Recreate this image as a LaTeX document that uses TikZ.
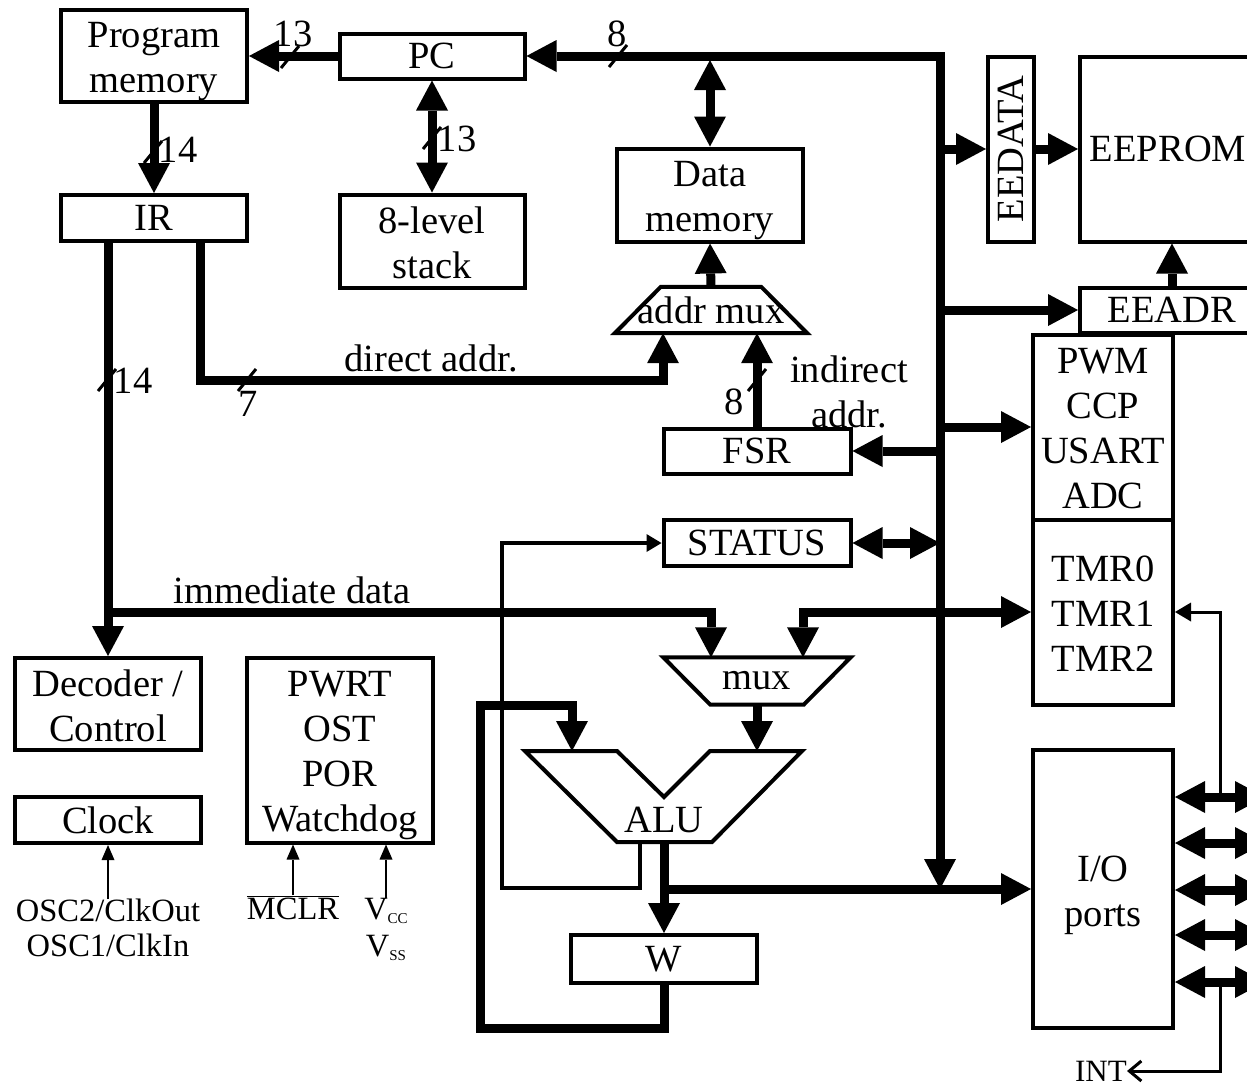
\documentclass[tikz,border=0pt]{standalone}
\usepackage{fontspec}
\setmainfont{Liberation Serif}
\usepackage{graphicx}
\usetikzlibrary{calc,arrows.meta}

\begin{document}
\begin{tikzpicture}[x=1pt, y=-1pt,
    font=\fontsize{38.5}{45}\selectfont,
    blk/.style={draw, line width=4pt, inner sep=0pt, align=center},
    lbl/.style={inner sep=0pt, align=center},
    txt/.style={lbl, yshift=-6pt},
    txtb/.style={lbl, yshift=-2pt},
    pinlbl/.style={inner sep=0pt, align=center, font=\fontsize{32.5}{35}\selectfont},
    bus/.style={line width=9pt},
    fb/.style={line width=4pt},
    sig/.style={line width=3pt},
    pinline/.style={line width=2pt},
    wcut/.style={line width=3pt},
    tri/.tip={Triangle[length=30pt, width=32pt, line width=0pt]},
    stri/.tip={Triangle[length=15pt, width=18pt, line width=0pt]},
    ttri/.tip={Triangle[length=16pt, width=19pt, line width=0pt]},
    ctri/.tip={Triangle[length=15pt, width=13pt, line width=0pt]},
    intb/.tip={Straight Barb[length=12pt, width=20pt]}]

    \useasboundingbox (0,0) rectangle (1247,1088);

    % blocks
    \node[blk, minimum width=186pt, minimum height=92pt, label={[txt]center:Program\\memory}] (pm) at (154,56) {};
    \node[blk, minimum width=185pt, minimum height=45pt] (pc) at (432,56) {PC};
    \node[blk, minimum width=186pt, minimum height=46pt] (ir) at (154,218) {IR};
    \node[blk, minimum width=185pt, minimum height=93pt, label={[txtb]center:8-level\\stack}] (stk) at (432,241) {};
    \node[blk, minimum width=186pt, minimum height=93pt, label={[txt]center:Data\\memory}] (dmem) at (710,195) {};
    \node[lbl, minimum width=192pt, minimum height=46pt] (amux) at (711,310) {addr mux};
    \node[blk, minimum width=187pt, minimum height=45pt] (fsr) at (757,451) {FSR};
    \node[blk, minimum width=187pt, minimum height=46pt] (status) at (757,543) {STATUS};
    \node[blk, minimum width=186pt, minimum height=92pt, label={[txtb]center:Decoder /\\Control}] (dec) at (108,704) {};
    \node[blk, minimum width=186pt, minimum height=46pt] (clk) at (108,820) {Clock};
    \node[blk, minimum width=186pt, minimum height=185pt, label={[txt]center:PWRT\\OST\\POR\\Watchdog}] (pwr) at (340,750) {};
    \node[lbl, minimum width=187pt, minimum height=47pt] (mux) at (757,681) {mux};
    \node[lbl] (alu) at (664,820) {ALU};
    \node[blk, minimum width=186pt, minimum height=48pt] (w) at (664,959) {W};
    \node[blk, minimum width=140pt, minimum height=278pt, label={[txt]center:I/O\\ports}] (io) at (1103,889) {};
    \node[blk, minimum width=140pt, minimum height=185pt, label={[txtb]center:PWM\\CCP\\USART\\ADC}] (per) at (1103,427) {};
    \node[blk, minimum width=140pt, minimum height=185pt, label={[txtb]center:TMR0\\TMR1\\TMR2}] (tmr) at (1103,612) {};
    \node[blk, minimum width=184pt, minimum height=45pt] (eeadr) at (1172,310) {EEADR};
    \node[blk, minimum width=176pt, minimum height=185pt] (eeprom) at (1168,149) {EEPROM};
    \node[blk, minimum width=46pt, minimum height=185pt] (eedata) at (1011,149) {\rotatebox{90}{EEDATA}};

    % mux shapes
    \draw[line width=4pt] (amux.south west) -- (amux.south east) -- ($(amux.north east)+(-46,0)$)
        -- ($(amux.north west)+(46,0)$) -- cycle;
    \draw[line width=4pt] (mux.north west) -- (mux.north east) -- ($(mux.south east)+(-47,0)$)
        -- ($(mux.south west)+(47,0)$) -- cycle;
    \draw[line width=4pt] (525,751) -- (617,751) -- (664,797) -- (710,751) -- (802,751)
        -- (712,842) -- (617,842) -- cycle;

    \coordinate (bustop) at (940,56);
    \coordinate (busbot) at (940,889);
    \coordinate (alu-a) at (572,751);
    \coordinate (alu-b) at (757,751);
    \coordinate (alu-o) at (664,842);
    \coordinate (alu-s) at (640,842);
    \coordinate (dirc) at (200,380);
    \coordinate (immj) at (108,612);
    \coordinate (fb1) at (480,1028);
    \coordinate (fb2) at (572,705);
    \coordinate (stc) at (502,888);
    \coordinate (p1) at (1220,797);
    \coordinate (p5) at (1220,982);

    % data bus
    \draw[bus, tri-tri] (pc.east) -- (bustop) -- (busbot);
    \draw[bus, -tri] (pc.west) -- (pm.east);
    \draw[bus, -tri] (pm.south) -- (ir.north);
    \draw[bus, tri-tri] (pc.south) -- (stk.north);
    \draw[bus, tri-tri, shorten <=4pt] (dmem.north |- bustop) -- (dmem.north);
    \draw[bus, -tri] (amux.north) -- (dmem.south);
    \draw[bus, -tri] (ir.south -| dirc) -- (dirc) -| ([xshift=-48pt]amux.south);
    \draw[bus, -tri] (fsr.north) -- (fsr.north |- amux.south);
    \draw[bus, -tri] (fsr.east -| bustop) -- (fsr.east);
    \draw[bus, tri-tri] (status.east) -- (status.east -| bustop);
    \draw[bus, -tri] (eedata.west -| bustop) -- (eedata.west);
    \draw[bus, -tri] (eedata.east) -- (eeprom.west);
    \draw[bus, -tri] (eeadr.west -| bustop) -- (eeadr.west);
    \draw[bus, -tri] (eeadr.north) -- (eeadr.north |- eeprom.south);
    \draw[bus, -tri] (per.west -| bustop) -- (per.west);
    \draw[bus, -tri] (dec.north |- ir.south) -- (dec.north);
    \draw[bus, -tri] (immj) -| ([xshift=-46pt]mux.north);
    \draw[bus, tri-tri] ([xshift=46pt]mux.north) |- (tmr.west);
    \draw[bus, -tri] (mux.south) -- (alu-b);
    \draw[bus, -tri] (alu-o) -- (w.north);
    \draw[bus, -tri] (alu-o |- io.west) -- (io.west);
    \draw[bus, -tri] (w.south) |- (fb1) |- (fb2) -- (alu-a);
    \draw[fb, -stri] (alu-s) |- (stc) |- (status.west);
    \foreach \py in {797,843,890,935,982}
        \draw[bus, tri-tri] (io.east |- 0,\py) -- (1265,\py);
    \draw[sig, -ttri] (p1) |- (tmr.east);

    % bus widths
    \foreach \sx/\sy in {290/57, 153/152, 432/138, 618/56, 107/380, 247/380, 757/380}
        \draw[wcut] ({\sx-9},{\sy+11}) -- ({\sx+9},{\sy-11});
    \node[lbl] (pmw) at (293,34) {13};
    \node[lbl] (irw) at (178,150) {14};
    \node[lbl] (stkw) at (457,139) {13};
    \node[lbl] (busw) at (617,34) {8};
    \node[lbl] (decw) at (133,381) {14};
    \node[lbl] (dirw) at (248,404) {7};
    \node[lbl] (fsrw) at (734,402) {8};
    \node[lbl] (ind) at (849,392) {indirect\\addr.};
    \node[lbl] (dir) at (431,358) {direct addr.};
    \node[lbl] (imm) at (292,590) {immediate data};

    % pins
    \node[pinlbl, anchor=north] (osc) at (108,899) {OSC2/ClkOut\\OSC1/ClkIn};
    \node[pinlbl, anchor=base] (mclr) at (293,919) {$\overline{\mbox{MCLR}}$};
    \node[pinlbl, anchor=base] (vcc) at (386,919) {V\raisebox{-4pt}{\fontsize{15}{15}\selectfont CC}};
    \node[pinlbl, anchor=base] (vss) at (386,956) {V\raisebox{-4pt}{\fontsize{15}{15}\selectfont SS}};
    \node[pinlbl, anchor=east, font=\fontsize{31}{34}\selectfont] (int) at (1127,1071) {INT};
    \draw[pinline, -ctri] (osc.north) -- (clk.south);
    \draw[pinline, -ctri] (mclr.north) -- (mclr.north |- pwr.south);
    \draw[pinline, -ctri] (vcc.north) -- (vcc.north |- pwr.south);
    \draw[sig, -intb] (p5) |- (int.east);
\end{tikzpicture}
\end{document}
